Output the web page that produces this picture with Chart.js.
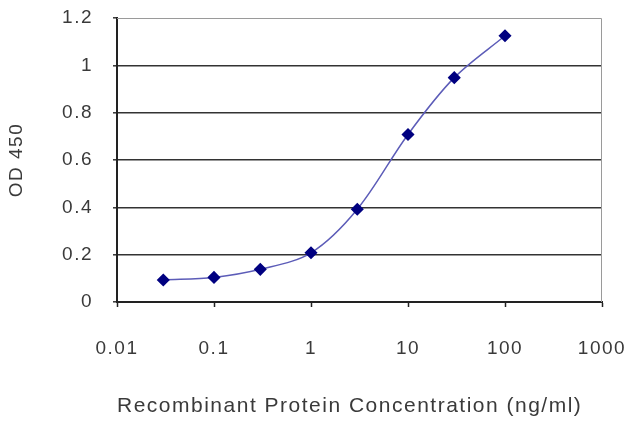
<!DOCTYPE html>
<html>
<head>
<meta charset="utf-8">
<style>
  html, body { margin: 0; padding: 0; background: #ffffff; }
  #wrap { width: 640px; height: 427px; }
</style>
<script src="https://cdn.jsdelivr.net/npm/chart.js@4/dist/chart.umd.min.js"></script>
</head>
<body>
<div id="wrap"><canvas id="c" width="640" height="427"></canvas></div>
<script>
const concentrations = [0.03, 0.1, 0.3, 1, 3, 10, 30, 100];
const odValues = [0.093, 0.104, 0.138, 0.208, 0.392, 0.708, 0.948, 1.125];
const xTickLabels = [0.01, 0.1, 1, 10, 100, 1000];
const yTickLabels = [0, 0.2, 0.4, 0.6, 0.8, 1, 1.2];
const xTitle = 'Recombinant Protein Concentration (ng/ml)';
const yTitle = 'OD 450';

const FONT = '"Liberation Sans", Arial, sans-serif';
const TEXT = '#3a3a3a';

const spacing = {
  id: 'spacing',
  beforeDraw(chart) {
    if ('letterSpacing' in chart.ctx) chart.ctx.letterSpacing = '1.5px';
  }
};

const frame = {
  id: 'frame',
  afterDatasetsDraw(chart) {
    const { ctx, chartArea: a } = chart;
    ctx.save();
    ctx.strokeStyle = '#9a9a9a';
    ctx.lineWidth = 1;
    ctx.beginPath();
    ctx.moveTo(a.left, a.top + 0.5);
    ctx.lineTo(a.right - 0.5, a.top + 0.5);
    ctx.lineTo(a.right - 0.5, a.bottom);
    ctx.stroke();
    ctx.restore();
  }
};

new Chart(document.getElementById('c'), {
  type: 'line',
  data: {
    datasets: [{
      data: concentrations.map((x, i) => ({ x: x, y: odValues[i] })),
      borderColor: '#5c5cb8',
      borderWidth: 1.5,
      backgroundColor: '#000080',
      pointStyle: 'rectRot',
      pointRadius: 5.5,
      pointBorderColor: '#000080',
      pointBackgroundColor: '#000080',
      tension: 0.33,
      fill: false
    }]
  },
  options: {
    responsive: false,
    animation: false,
    layout: { padding: { top: 18, right: 38, left: 0, bottom: 0 } },
    plugins: { legend: { display: false }, tooltip: { enabled: false } },
    scales: {
      x: {
        type: 'logarithmic',
        min: 0.01,
        max: 1000,
        afterFit(scale) {
          scale.height = 125;
          scale.paddingLeft = 0;
          scale.paddingRight = 0;
        },
        afterBuildTicks(scale) {
          scale.ticks = xTickLabels.map(v => ({ value: v, major: true }));
        },
        ticks: {
          autoSkip: false,
          maxRotation: 0,
          padding: 30,
          color: TEXT,
          font: { family: FONT, size: 19 },
          callback: (v) => String(v)
        },
        grid: {
          drawOnChartArea: false,
          drawTicks: true,
          tickLength: 5,
          tickColor: '#222',
          tickWidth: 1.5
        },
        border: { display: true, color: '#222', width: 2 },
        title: {
          display: true,
          align: 'start',
          text: xTitle,
          color: TEXT,
          font: { family: FONT, size: 21 },
          padding: { top: 0, bottom: 8 }
        }
      },
      y: {
        min: 0,
        max: 1.2,
        afterFit(scale) {
          scale.width = 117;
          scale.paddingTop = 0;
          scale.paddingBottom = 0;
        },
        afterBuildTicks(scale) {
          scale.ticks = yTickLabels.map(v => ({ value: v }));
        },
        ticks: {
          padding: 20,
          color: TEXT,
          font: { family: FONT, size: 19 },
          callback: (v) => String(Number(v.toFixed(1)))
        },
        grid: {
          drawTicks: true,
          tickLength: 4,
          color: (c) => (c.tick && c.tick.value >= 1.2) ? 'rgba(0,0,0,0)' : '#333',
          lineWidth: 1.6,
          tickColor: '#333',
          tickWidth: 1.5
        },
        border: { display: true, color: '#222', width: 2 },
        title: {
          display: true,
          text: yTitle,
          color: TEXT,
          font: { family: FONT, size: 19 },
          padding: { top: 5, bottom: 0 }
        }
      }
    }
  },
  plugins: [spacing, frame]
});
</script>
</body>
</html>
